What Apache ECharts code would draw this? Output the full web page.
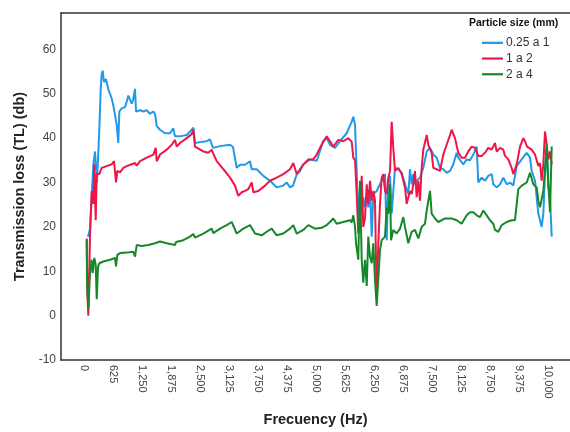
<!DOCTYPE html>
<html><head><meta charset="utf-8">
<script src="https://cdn.jsdelivr.net/npm/echarts@6/dist/echarts.min.js"></script>
<style>html,body{margin:0;padding:0;background:#fff}#c{width:570px;height:432px}</style>
</head><body><div id="c"></div>
<script>
const seriesNames = ['0.25 a 1', '1 a 2', '2 a 4'];
const legendTitle = 'Particle size (mm)';
const xTitle = 'Frecuency (Hz)';
const yTitle = 'Transmission loss (TL) (db)';
const xTicks = [0,625,1250,1875,2500,3125,3750,4375,5000,5625,6250,6875,7500,8125,8750,9375,10000];
const yTicks = [-10,0,10,20,30,40,50,60];

const blueHz = [86,129,200,237,280,330,360,381,403,431,474,524,560,597,631,668,705,739,761,812,884,920,955,991,1028,1056,1099,1121,1207,1278,1351,1422,1494,1530,1567,1638,1746,1853,1925,1961,2069,2213,2321,2356,2392,2500,2644,2715,2780,2931,3147,3211,3291,3362,3470,3578,3614,3722,3864,4009,4153,4295,4369,4440,4504,4584,4655,4726,4870,5015,5086,5151,5230,5302,5410,5517,5661,5769,5804,5841,5877,5911,5948,5985,6019,6056,6093,6127,6164,6200,6235,6308,6379,6450,6487,6524,6558,6595,6631,6666,6702,6774,6847,6918,6989,7026,7062,7097,7133,7170,7241,7312,7386,7457,7528,7601,7672,7743,7816,7888,7959,8031,8066,8103,8174,8248,8319,8390,8463,8497,8571,8642,8713,8787,8821,8894,8966,9037,9110,9181,9252,9325,9433,9541,9612,9648,9720,9791,9864,9899,9935,9972,10006,10043,10080];
const blueDb = [17.8,19.6,34,37,30,42,51,54.4,55.2,52.6,53.3,51,50,48.9,47.4,47.8,43,38.9,46,46.7,47,48.2,49.6,50,47.8,48.5,51.1,46,46.3,46,46.3,45.5,46,45.5,42.7,41.9,41.1,41.1,42.2,40.4,40.4,40.7,41.9,42.4,38.9,39.1,39.3,39.7,37.8,38.2,38.5,38,33.3,34,34,34.8,33,33,31.5,30.4,28.9,29.3,30,28.9,29.3,31.8,32.6,34.1,35.2,34.9,37.1,39.3,40,38.5,37.8,39.3,41.1,43.7,44.8,43,32.6,21.5,28.9,23,26.7,24.4,26.7,24.4,28.9,17.8,27.4,28.1,29.6,31.1,31.9,17,30.4,31.5,23,23,33.3,33,32.2,29.6,27.4,33,29.6,31.9,29.6,30.4,31.1,33.3,37,37.8,36.3,35.6,33.3,33,32.2,32.6,34.1,36.7,35.6,36,34.1,35.2,35,36.3,38.1,30,31.1,30.4,31.5,31.9,29.6,28.9,29.6,31.1,29.6,30,29.3,33.7,35.2,36.7,35.6,32.6,30.4,23,20,23,31.9,38.1,28.9,26.7,17.8];

const redHz = [58,71,93,129,166,200,222,252,274,330,381,489,597,647,690,718,776,847,920,1028,1099,1136,1207,1351,1494,1545,1567,1638,1782,1890,1961,1998,2069,2213,2321,2356,2392,2414,2571,2679,2752,2787,2860,3002,3147,3254,3325,3398,3470,3541,3614,3649,3756,3901,4009,4153,4295,4440,4511,4584,4655,4726,4834,4935,5015,5122,5230,5302,5373,5481,5589,5696,5733,5769,5804,5841,5877,5911,5948,5985,6019,6056,6093,6127,6164,6200,6235,6271,6308,6343,6379,6416,6450,6487,6524,6558,6595,6631,6666,6702,6774,6847,6918,6954,7026,7062,7097,7133,7170,7205,7241,7277,7312,7386,7420,7493,7528,7601,7672,7743,7816,7888,7924,7995,8066,8138,8211,8282,8355,8427,8497,8571,8642,8713,8787,8858,8894,8966,9037,9073,9145,9216,9252,9325,9397,9469,9505,9548,9648,9720,9791,9827,9864,9899,9935,9972,10006,10043,10080];
const redDb = [17.4,5.2,0,18,28.1,25.2,34.1,21.5,31.9,31.9,33.3,33.7,34.1,34.8,30,32.6,32.3,33.3,33.7,34.1,34.4,33.8,34.8,35.6,36.3,37.8,34.8,36.3,37.4,38.5,39.6,38.1,38.9,40,40.9,41.9,38.1,37.8,37,36.7,37.4,36.5,34.8,33,31.1,29.3,27,27.8,28.1,28.5,30,27.8,28.1,29.3,30.4,31.1,31.9,33,34.4,31.9,33,34,35.2,35.2,36.3,38.5,40.4,39.3,38.1,39.6,39.3,40,40,39.2,35.6,35,27.4,18.5,21,31.5,20,22,29.6,25.2,30.4,25.9,28.1,26,3.7,16.3,25.2,31.1,31.9,28.1,27.4,31.1,32.6,43.7,37.8,32.6,33.3,31.9,28.9,25.2,28.1,27.4,29.6,32.6,26.7,30.4,25.9,33.3,37.4,40.7,38.5,36.7,33.3,33,32.6,36.3,38.5,40.7,41.9,40,36.7,35.6,35.6,37,38.1,37.8,36,36,36.7,37.8,37.4,38.9,37,37.8,37.4,36,35.2,33.3,31.9,34.1,38.1,40,39.3,38.1,37.4,36.3,33.7,34.4,30.4,34.1,41.5,38.5,35.2,37,34.1];

const greenHz = [58,65,93,129,166,187,222,252,274,302,330,416,560,668,690,718,776,920,1062,1099,1136,1243,1386,1530,1567,1638,1782,1961,1983,2140,2284,2356,2392,2571,2752,2787,2931,3075,3183,3291,3433,3578,3685,3830,3938,4045,4153,4295,4440,4511,4584,4726,4834,4978,5122,5230,5302,5373,5446,5589,5733,5769,5804,5841,5862,5911,5948,5985,6019,6056,6093,6127,6164,6200,6235,6271,6308,6343,6379,6416,6487,6524,6558,6595,6617,6666,6739,6810,6882,6918,6989,7062,7133,7205,7277,7349,7386,7457,7493,7565,7636,7780,7924,8031,8138,8248,8319,8390,8463,8534,8606,8678,8750,8821,8858,8929,9002,9110,9216,9288,9360,9433,9541,9612,9683,9756,9791,9827,9899,9935,9972,10006,10043,10080];
const greenDb = [17,7.4,1.5,9.6,12.6,9.6,13,11.5,3.7,11,11.8,12.2,12.6,13,11.1,13.7,14.1,14.2,14.4,13.3,15.9,15.7,15.9,16.3,16.7,16.7,16.3,15.9,16.6,17,17.8,18.4,17.6,18.5,19.6,18.6,19.6,20.4,21.1,18.5,19.6,20.4,18.5,18.1,18.9,19.6,18.1,18.5,19.6,20.4,18.5,19.3,20.4,19.6,19.8,20.4,21.1,21.9,20.7,21.1,21.5,21,22.6,20,16.3,12.6,30.4,12.6,7.4,12.6,6.7,17.8,13.3,11.8,16.3,8,2.2,2.2,14.8,17,17.8,24.4,23,29.6,17,19.3,18.5,19.6,22.2,20,16.3,18.9,19.3,17.4,20,20.7,23.7,28.1,23,21.9,21.1,21.9,21.9,21.5,20.7,22.6,23.3,23.3,22.6,22.2,23.7,22.6,21.5,20.7,19.3,18.9,20.4,21.1,21.5,21.5,28.5,29.3,30,32.2,29.6,28.9,25.9,24.4,28.1,33,38.5,30,23.3,38.1];

const colors = ['#2299e8', '#ee1646', '#15882a'];
const pairs = (xs, ys) => xs.map((x, i) => [x, ys[i]]);
const fmt = v => String(v).replace(/\B(?=(\d{3})+(?!\d))/g, ',');
const FONT = '"Liberation Sans", Arial, sans-serif';

const chart = echarts.init(document.getElementById('c'), null, {renderer: 'canvas'});
chart.setOption({
  animation: false,
  backgroundColor: '#fff',
  color: colors,
  textStyle: {fontFamily: FONT},
  grid: {left: 61, right: 0, top: 13, bottom: 67, containLabel: false},
  xAxis: [{
    type: 'value', min: -496, max: 10474,
    name: xTitle, nameLocation: 'middle', nameGap: 52,
    nameTextStyle: {fontSize: 14.5, fontWeight: 'bold', color: '#222', fontFamily: FONT},
    axisLine: {show: true, onZero: false, lineStyle: {color: '#333', width: 1.5}},
    axisTick: {show: false},
    splitLine: {show: false},
    axisLabel: {customValues: xTicks, rotate: -90, fontSize: 11, color: '#444', margin: 5, formatter: v => fmt(v), fontFamily: FONT}
  }, {
    type: 'value', position: 'top', min: -496, max: 10474,
    axisLine: {show: true, onZero: false, lineStyle: {color: '#333', width: 1.5}},
    axisTick: {show: false}, axisLabel: {show: false}, splitLine: {show: false}
  }],
  yAxis: {
    type: 'value', min: -10, max: 68.2,
    name: yTitle, nameLocation: 'middle', nameGap: 33,
    nameTextStyle: {fontSize: 14.5, fontWeight: 'bold', color: '#222', fontFamily: FONT},
    axisLine: {show: true, onZero: false, lineStyle: {color: '#333', width: 1.5}},
    axisTick: {show: false},
    splitLine: {show: false},
    axisLabel: {customValues: yTicks, fontSize: 12, color: '#444', margin: 5, fontFamily: FONT}
  },
  legend: {
    orient: 'vertical', left: 482, top: 35, padding: 0,
    icon: 'rect', itemWidth: 21, itemHeight: 2.2, itemGap: 0,
    data: seriesNames,
    textStyle: {fontSize: 12, lineHeight: 15.7, color: '#333', padding: [0, 0, 0, -2], fontFamily: FONT}
  },
  graphic: [{
    type: 'text', left: 469, top: 18,
    style: {text: legendTitle, font: 'bold 10.5px "Liberation Sans", Arial, sans-serif', fill: '#111'}
  }],
  series: [
    {name: seriesNames[0], type: 'line', data: pairs(blueHz, blueDb), symbol: 'none', lineStyle: {width: 2}, z: 2},
    {name: seriesNames[1], type: 'line', data: pairs(redHz, redDb), symbol: 'none', lineStyle: {width: 2}, z: 3},
    {name: seriesNames[2], type: 'line', data: pairs(greenHz, greenDb), symbol: 'none', lineStyle: {width: 2}, z: 4}
  ]
});
</script></body></html>
